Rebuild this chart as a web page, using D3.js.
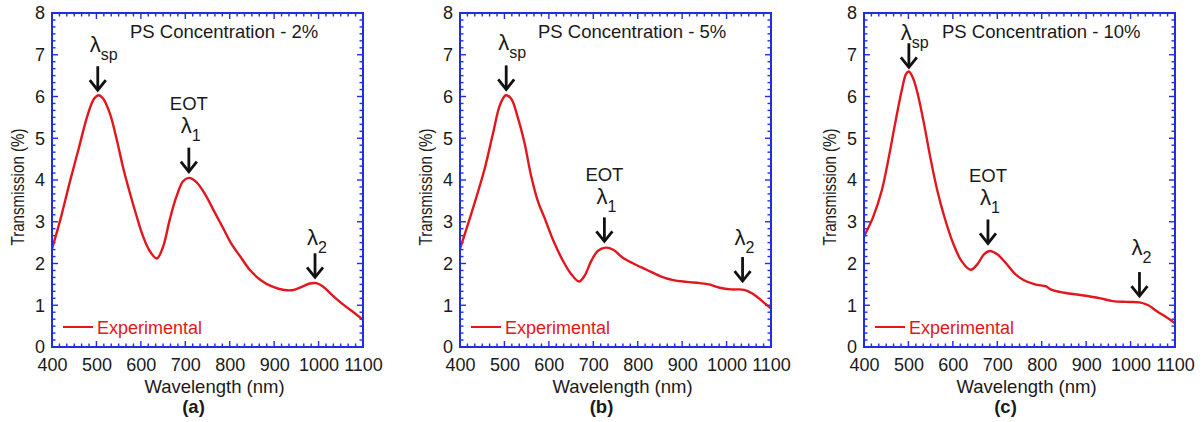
<!DOCTYPE html>
<html>
<head>
<meta charset="utf-8">
<script src="https://cdn.jsdelivr.net/npm/d3@7"></script>
<style>
body { margin: 0; background: #fff; }
text { font-family: "Liberation Sans", Arial, sans-serif; }
</style>
</head>
<body>
<svg width="1204" height="422"></svg>
<script>
// wavelength (nm) and transmission (%)
var wlA = [400,420,440,460,480,495,505,515,530,545,560,575,590,605,620,636,650,665,680,695,708,725,745,765,785,805,825,845,870,895,920,940,960,980,995,1010,1030,1055,1080,1100];
var tA  = [2.35,3.1,3.95,4.75,5.55,5.95,6.03,5.95,5.6,5.0,4.3,3.7,3.15,2.65,2.3,2.12,2.4,3.05,3.6,3.97,4.05,3.95,3.65,3.25,2.85,2.45,2.15,1.85,1.6,1.45,1.37,1.36,1.43,1.52,1.53,1.45,1.25,1.02,0.82,0.65];

var wlB = [400,430,455,475,490,503,515,530,545,560,575,590,610,630,650,668,680,695,710,728,745,765,790,820,850,880,910,940,960,985,1010,1040,1060,1080,1100];
var tB  = [2.35,3.35,4.25,5.15,5.8,6.03,5.95,5.5,4.9,4.1,3.5,3.1,2.55,2.1,1.75,1.57,1.7,2.05,2.3,2.38,2.33,2.15,2.0,1.85,1.7,1.6,1.56,1.53,1.5,1.42,1.38,1.37,1.27,1.1,0.92];

var wlC = [400,420,440,455,470,485,495,501,510,520,535,550,565,580,600,620,640,655,670,683,700,720,740,760,785,810,820,850,890,930,960,990,1020,1040,1060,1080,1100];
var tC  = [2.65,3.1,3.75,4.5,5.35,6.15,6.55,6.6,6.45,6.1,5.35,4.5,3.75,3.15,2.5,2.05,1.85,1.98,2.22,2.3,2.22,2.0,1.75,1.6,1.5,1.45,1.38,1.3,1.24,1.17,1.1,1.08,1.07,1.0,0.85,0.72,0.57];

var titles = ["PS Concentration - 2%", "PS Concentration - 5%", "PS Concentration - 10%"];
var panelTags = ["(a)", "(b)", "(c)"];
var xTicks = [400,500,600,700,800,900,1000,1100];
var yTicks = [0,1,2,3,4,5,6,7,8];

// annotations: sub = subscript, x = wavelength, tip = arrow tip value, txt = lambda value, eot = show EOT
var notesA = [
  {sub: "sp", x: 503, tip: 6.15, txt: 7.23, eot: false},
  {sub: "1",  x: 708, tip: 4.2,  txt: 5.3,  eot: true},
  {sub: "2",  x: 992, tip: 1.67, txt: 2.62, eot: false}
];
var notesB = [
  {sub: "sp", x: 504, tip: 6.17, txt: 7.27, eot: false},
  {sub: "1",  x: 725, tip: 2.53, txt: 3.6,  eot: true},
  {sub: "2",  x: 1036, tip: 1.58, txt: 2.6, eot: false}
];
var notesC = [
  {sub: "sp", x: 501, tip: 6.7,  txt: 7.52, eot: false},
  {sub: "1",  x: 679, tip: 2.48, txt: 3.58, eot: true},
  {sub: "2",  x: 1020, tip: 1.22, txt: 2.36, eot: false}
];

var svg = d3.select("svg");
var blue = "#1f2fe0", red = "#e3161d", ink = "#1a1a1a";
var panelLeft = [52, 460, 864], plotW = 311, plotTop = 13, plotH = 334;

var panels = [
  {wl: wlA, t: tA, notes: notesA},
  {wl: wlB, t: tB, notes: notesB},
  {wl: wlC, t: tC, notes: notesC}
];

panels.forEach(function(p, i) {
  var g = svg.append("g").attr("transform", "translate(" + panelLeft[i] + "," + plotTop + ")");
  var x = d3.scaleLinear().domain([400, 1100]).range([0, plotW]);
  var y = d3.scaleLinear().domain([0, 8]).range([plotH, 0]);

  // minor ticks (5 between majors), all four sides, inward
  var xMinor = d3.range(400, 1100.1, 100 / 6);
  var yMinor = d3.range(0, 8.01, 1 / 6);
  var tk = g.append("g").attr("stroke", blue).attr("stroke-width", 1.4);
  xMinor.forEach(function(v) {
    var major = Math.abs(v / 100 - Math.round(v / 100)) < 1e-6;
    var len = major ? 6 : 3.5;
    tk.append("line").attr("x1", x(v)).attr("x2", x(v)).attr("y1", plotH).attr("y2", plotH - len);
    tk.append("line").attr("x1", x(v)).attr("x2", x(v)).attr("y1", 0).attr("y2", len);
  });
  yMinor.forEach(function(v) {
    var major = Math.abs(v - Math.round(v)) < 1e-6;
    var len = major ? 6 : 3.5;
    tk.append("line").attr("y1", y(v)).attr("y2", y(v)).attr("x1", 0).attr("x2", len);
    tk.append("line").attr("y1", y(v)).attr("y2", y(v)).attr("x1", plotW).attr("x2", plotW - len);
  });

  // tick labels via axes (tick lines hidden)
  var xa = g.append("g").attr("transform", "translate(0," + plotH + ")")
    .call(d3.axisBottom(x).tickValues(xTicks).tickSize(0).tickPadding(11).tickFormat(d3.format("d")));
  var ya = g.append("g")
    .call(d3.axisLeft(y).tickValues(yTicks).tickSize(0).tickPadding(7).tickFormat(d3.format("d")));
  [xa, ya].forEach(function(a) {
    a.select(".domain").remove();
    a.selectAll("text").attr("font-size", 18).attr("fill", ink)
      .style("font-family", "'Liberation Sans', Arial, sans-serif");
  });

  // curve
  var line = d3.line()
    .x(function(d) { return x(d[0]); })
    .y(function(d) { return y(d[1]); })
    .curve(d3.curveCatmullRom.alpha(0.5));
  g.append("path")
    .datum(d3.zip(p.wl, p.t))
    .attr("fill", "none").attr("stroke", red).attr("stroke-width", 2.4)
    .attr("d", line);

  // frame
  g.append("rect").attr("width", plotW).attr("height", plotH)
    .attr("fill", "none").attr("stroke", blue).attr("stroke-width", 2);

  // title inside
  g.append("text").attr("x", 78).attr("y", 24.5).attr("font-size", 18.5).attr("fill", ink)
    .text(titles[i]);

  // legend
  g.append("line").attr("x1", 11).attr("x2", 41).attr("y1", 314).attr("y2", 314)
    .attr("stroke", red).attr("stroke-width", 2);
  g.append("text").attr("x", 45).attr("y", 320.5).attr("font-size", 18).attr("fill", red)
    .text("Experimental");

  // annotations
  p.notes.forEach(function(n) {
    var ax = x(n.x), tipY = y(n.tip), topY = tipY - 24;
    var a = g.append("g").attr("stroke", "#111").attr("stroke-width", 2.8).attr("fill", "none");
    a.append("line").attr("x1", ax).attr("x2", ax).attr("y1", topY).attr("y2", tipY - 1);
    a.append("path").attr("d", "M" + (ax - 8) + "," + (tipY - 10) + "L" + ax + "," + tipY + "L" + (ax + 8) + "," + (tipY - 10))
      .attr("stroke-linejoin", "miter");
    var ty = y(n.txt);
    var t = g.append("text").attr("x", ax - 8).attr("y", ty + 7).attr("font-size", 22).attr("fill", ink);
    t.append("tspan").text("λ");
    t.append("tspan").attr("dy", 8).attr("font-size", 16).text(n.sub);
    if (n.eot) {
      g.append("text").attr("x", ax).attr("y", ty - 16).attr("text-anchor", "middle")
        .attr("font-size", 18.5).attr("fill", ink).text("EOT");
    }
  });

  // axis titles
  g.append("text").attr("x", plotW / 2 + 7).attr("y", 379.5).attr("text-anchor", "middle")
    .attr("font-size", 18.5).attr("fill", ink).text("Wavelength (nm)");
  g.append("text").attr("transform", "translate(-28," + (plotH / 2 + 7) + ") rotate(-90) scale(0.84,1)")
    .attr("text-anchor", "middle").attr("font-size", 18).attr("fill", ink)
    .text("Transmission (%)");
  g.append("text").attr("x", plotW / 2 - 14).attr("y", 400).attr("text-anchor", "middle")
    .attr("font-size", 18.5).attr("font-weight", "bold").attr("fill", ink)
    .text(panelTags[i]);
});
</script>
</body>
</html>
